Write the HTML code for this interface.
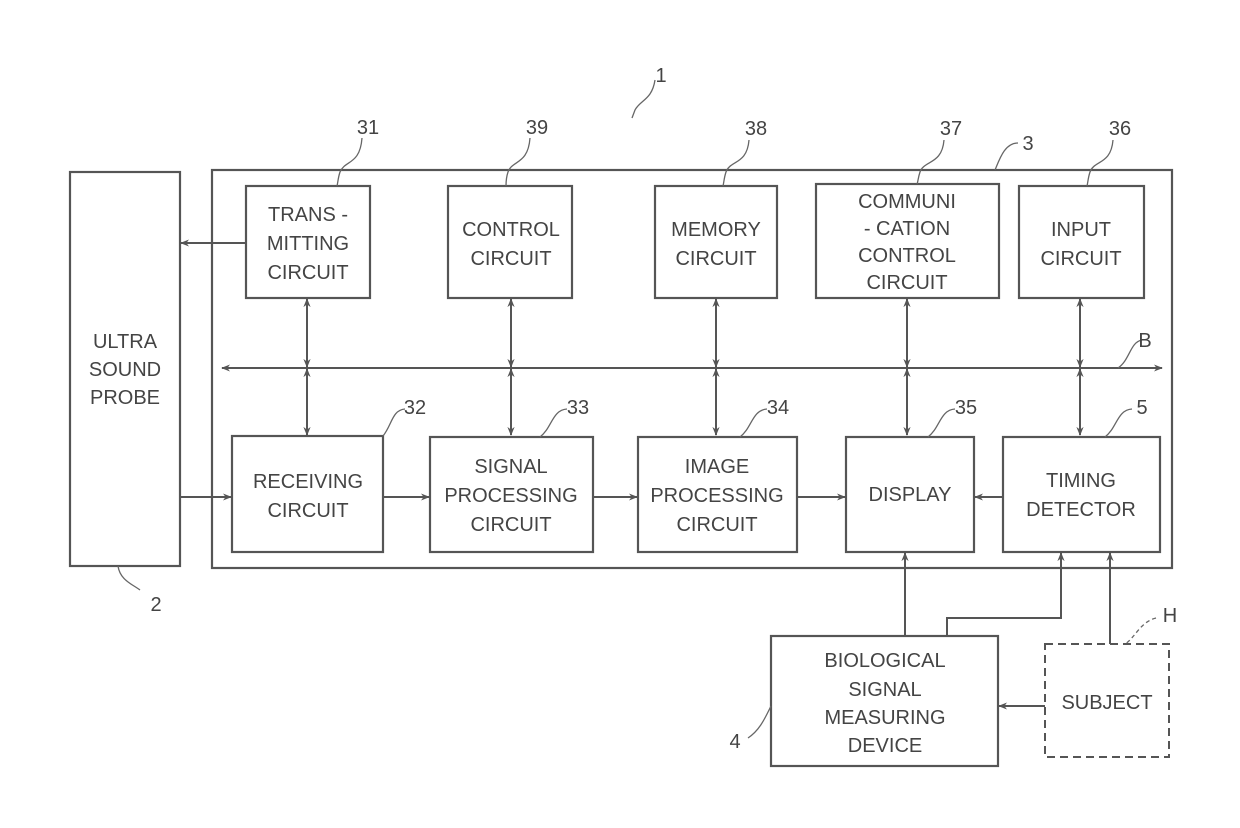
<!DOCTYPE html>
<html><head><meta charset="utf-8"><style>
html,body{margin:0;padding:0;background:#fff;}
svg{display:block;}
text{font-family:"Liberation Sans",sans-serif;fill:#444;font-size:20px;text-anchor:middle;}
.b{fill:none;stroke:#555;stroke-width:2.2;}
.l{fill:none;stroke:#555;stroke-width:2;}
.t{fill:none;stroke:#666;stroke-width:1.3;}
</style></head><body>
<svg width="1240" height="828" viewBox="0 0 1240 828">
<defs>
<marker id="a" viewBox="0 0 10 10" refX="9" refY="5" markerWidth="9" markerHeight="9" markerUnits="userSpaceOnUse" orient="auto-start-reverse">
<path d="M0,1 L10,5 L0,9 L3,5 Z" fill="#555"/></marker>
</defs>
<!-- probe -->
<rect class="b" x="70" y="172" width="110" height="394"/>
<text x="125" y="348">ULTRA</text><text x="125" y="376">SOUND</text><text x="125" y="404">PROBE</text>
<!-- main -->
<rect class="b" x="212" y="170" width="960" height="398"/>
<!-- top boxes -->
<rect class="b" x="246" y="186" width="124" height="112"/>
<text x="308" y="221">TRANS -</text><text x="308" y="250">MITTING</text><text x="308" y="279">CIRCUIT</text>
<rect class="b" x="448" y="186" width="124" height="112"/>
<text x="511" y="236">CONTROL</text><text x="511" y="265">CIRCUIT</text>
<rect class="b" x="655" y="186" width="122" height="112"/>
<text x="716" y="236">MEMORY</text><text x="716" y="265">CIRCUIT</text>
<rect class="b" x="816" y="184" width="183" height="114"/>
<text x="907" y="208">COMMUNI</text><text x="907" y="235">- CATION</text><text x="907" y="262">CONTROL</text><text x="907" y="289">CIRCUIT</text>
<rect class="b" x="1019" y="186" width="125" height="112"/>
<text x="1081" y="236">INPUT</text><text x="1081" y="265">CIRCUIT</text>
<!-- bus -->
<line class="l" x1="222" y1="368" x2="1162" y2="368" marker-start="url(#a)" marker-end="url(#a)"/>
<!-- vertical arrows -->
<g class="l">
<line x1="307" y1="299" x2="307" y2="367" marker-start="url(#a)" marker-end="url(#a)"/>
<line x1="307" y1="369" x2="307" y2="435" marker-start="url(#a)" marker-end="url(#a)"/>
<line x1="511" y1="299" x2="511" y2="367" marker-start="url(#a)" marker-end="url(#a)"/>
<line x1="511" y1="369" x2="511" y2="435" marker-start="url(#a)" marker-end="url(#a)"/>
<line x1="716" y1="299" x2="716" y2="367" marker-start="url(#a)" marker-end="url(#a)"/>
<line x1="716" y1="369" x2="716" y2="435" marker-start="url(#a)" marker-end="url(#a)"/>
<line x1="907" y1="299" x2="907" y2="367" marker-start="url(#a)" marker-end="url(#a)"/>
<line x1="907" y1="369" x2="907" y2="435" marker-start="url(#a)" marker-end="url(#a)"/>
<line x1="1080" y1="299" x2="1080" y2="367" marker-start="url(#a)" marker-end="url(#a)"/>
<line x1="1080" y1="369" x2="1080" y2="435" marker-start="url(#a)" marker-end="url(#a)"/>
</g>
<!-- bottom boxes -->
<rect class="b" x="232" y="436" width="151" height="116"/>
<text x="308" y="488">RECEIVING</text><text x="308" y="517">CIRCUIT</text>
<rect class="b" x="430" y="437" width="163" height="115"/>
<text x="511" y="473">SIGNAL</text><text x="511" y="502">PROCESSING</text><text x="511" y="531">CIRCUIT</text>
<rect class="b" x="638" y="437" width="159" height="115"/>
<text x="717" y="473">IMAGE</text><text x="717" y="502">PROCESSING</text><text x="717" y="531">CIRCUIT</text>
<rect class="b" x="846" y="437" width="128" height="115"/>
<text x="910" y="501">DISPLAY</text>
<rect class="b" x="1003" y="437" width="157" height="115"/>
<text x="1081" y="487">TIMING</text><text x="1081" y="516">DETECTOR</text>
<!-- horizontal arrows -->
<g class="l">
<line x1="246" y1="243" x2="181" y2="243" marker-end="url(#a)"/>
<line x1="180" y1="497" x2="231" y2="497" marker-end="url(#a)"/>
<line x1="383" y1="497" x2="429" y2="497" marker-end="url(#a)"/>
<line x1="593" y1="497" x2="637" y2="497" marker-end="url(#a)"/>
<line x1="797" y1="497" x2="845" y2="497" marker-end="url(#a)"/>
<line x1="1003" y1="497" x2="975" y2="497" marker-end="url(#a)"/>
<line x1="905" y1="636" x2="905" y2="553" marker-end="url(#a)"/>
<polyline points="947,636 947,618 1061,618 1061,553" marker-end="url(#a)"/>
<line x1="1110" y1="644" x2="1110" y2="553" marker-end="url(#a)"/>
<line x1="1045" y1="706" x2="999" y2="706" marker-end="url(#a)"/>
</g>
<!-- bio & subject -->
<rect class="b" x="771" y="636" width="227" height="130"/>
<text x="857" y="667" style="text-anchor:middle" transform="translate(28,0)">BIOLOGICAL</text>
<text x="885" y="696">SIGNAL</text><text x="885" y="724">MEASURING</text><text x="885" y="752">DEVICE</text>
<rect x="1045" y="644" width="124" height="113" fill="none" stroke="#555" stroke-width="2" stroke-dasharray="8,5"/>
<text x="1107" y="709">SUBJECT</text>
<!-- leaders and labels -->
<g class="t">
<path d="M362,138 C360,165 345,160 340,172 C338,178 338,182 337,186"/>
<path d="M530,138 C528,165 512,160 508,172 C506,178 506,182 506,186"/>
<path d="M749,140 C747,165 730,160 726,172 C724,178 724,182 723,186"/>
<path d="M944,140 C942,165 924,160 920,172 C918,178 918,182 917,184"/>
<path d="M1113,140 C1111,165 1094,160 1090,172 C1088,178 1088,182 1087,186"/>
<path d="M1018,143 C1005,143 1000,158 995,170"/>
<path d="M655,80 C652,100 640,100 635,110 L632,118"/>
<path d="M1142,340 C1130,342 1130,360 1118,368"/>
<path d="M405,409 C392,410 392,425 383,436"/>
<path d="M567,409 C552,410 552,428 540,437"/>
<path d="M767,409 C752,410 752,428 740,437"/>
<path d="M955,409 C940,410 940,428 928,437"/>
<path d="M1132,409 C1117,410 1117,428 1105,437"/>
<path d="M118,566 C120,580 132,584 140,590"/>
<path d="M1156,618 C1140,622 1135,638 1125,644" stroke-dasharray="4,3"/>
<path d="M748,738 C760,730 765,718 771,706"/>
</g>
<text x="368" y="134">31</text><text x="537" y="134">39</text><text x="756" y="135">38</text>
<text x="951" y="135">37</text><text x="1120" y="135">36</text><text x="1028" y="150">3</text>
<text x="661" y="82">1</text>
<text x="1145" y="347">B</text>
<text x="415" y="414">32</text><text x="578" y="414">33</text><text x="778" y="414">34</text>
<text x="966" y="414">35</text><text x="1142" y="414">5</text>
<text x="156" y="611">2</text><text x="1170" y="622">H</text><text x="735" y="748">4</text>
</svg>
</body></html>
